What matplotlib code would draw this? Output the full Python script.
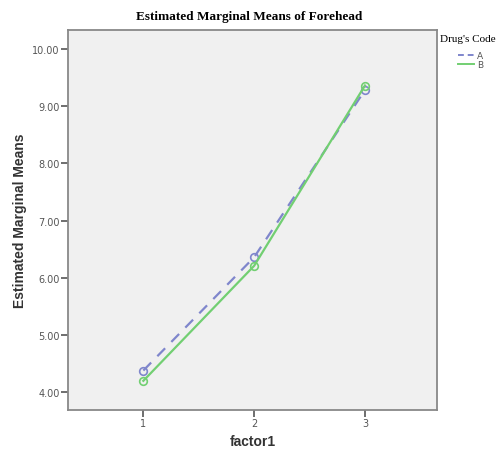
import matplotlib
matplotlib.use("Agg")
import matplotlib.pyplot as plt
from matplotlib.lines import Line2D

factor1 = [1, 2, 3]
mean_a = [4.38, 6.36, 9.28]
mean_b = [4.20, 6.21, 9.36]
y_ticks = [4, 5, 6, 7, 8, 9, 10]

fig = plt.figure(figsize=(5.03, 4.52), dpi=100)
ax = fig.add_axes([68/503, 1 - 411/452, (437-68)/503, (411-31)/452])
ax.set_facecolor('#f0f0f0')

ax.plot(factor1, mean_a, linestyle=(0, (5, 4)), color='#7f86cc', lw=1.6,
        marker='o', mfc='none', mec='#7f86cc', ms=5.5, mew=1.2)
ax.plot(factor1, mean_b, linestyle='-', color='#72cf72', lw=1.6,
        marker='o', mfc='none', mec='#72cf72', ms=5.5, mew=1.2)

ax.set_xlim(0.32, 3.65)
ax.set_ylim(3.69, 10.33)
ax.set_xticks(factor1)
ax.set_yticks(y_ticks)
ax.set_yticklabels(['%.2f' % v for v in y_ticks])
ax.tick_params(labelsize=7, colors='#555555', length=5, width=1.2, pad=1)
for s in ax.spines.values():
    s.set_color('#888888')
    s.set_linewidth(1.3)

ax.set_xlabel('factor1', fontsize=10, fontweight='bold', family='Liberation Sans', color='#333333')
ax.set_ylabel('Estimated Marginal Means', fontsize=10, fontweight='bold', family='Liberation Sans',
              color='#333333', labelpad=4)
fig.text(0.495, 1 - 17/452, 'Estimated Marginal Means of Forehead', ha='center', va='center',
         fontsize=9.5, fontweight='bold', family='Liberation Serif')

fig.text(440/503, 1 - 40/452, "Drug's Code", ha='left', va='center', fontsize=8,
         family='Liberation Serif')
handles = [Line2D([], [], color='#7f86cc', lw=1.4, linestyle=(0, (3, 2))),
           Line2D([], [], color='#72cf72', lw=1.4)]
fig.legend(handles, ['A', 'B'], loc='upper left', bbox_to_anchor=(458/503, 1 - 52/452),
           frameon=False, fontsize=6.5, handlelength=1.8, handletextpad=0.3, labelspacing=0.05,
           borderpad=0, borderaxespad=0, labelcolor='#555555')

fig.savefig('out.png', dpi=100)
